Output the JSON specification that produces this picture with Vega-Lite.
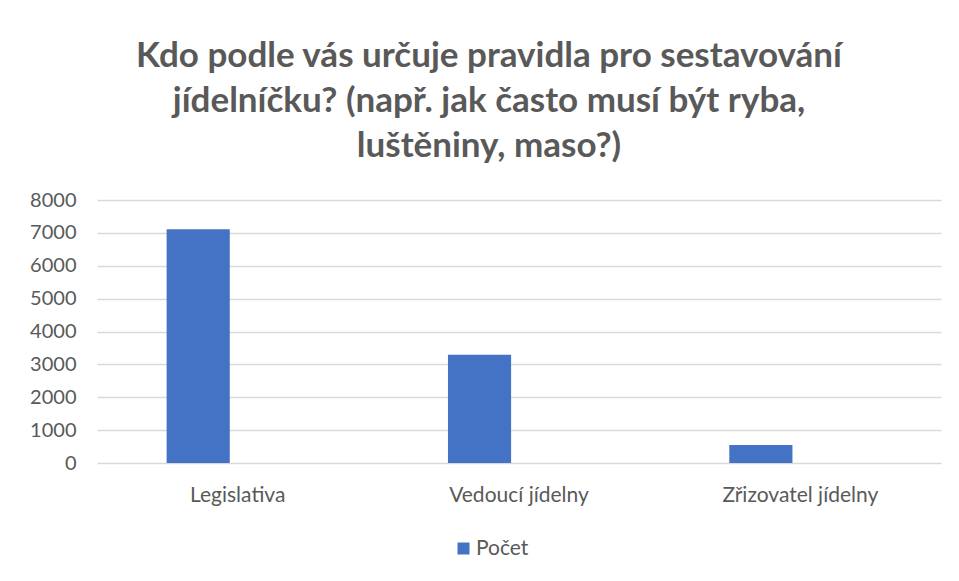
{
  "$schema": "https://vega.github.io/schema/vega-lite/v6.json",
  "autosize": "none",
  "width": 844,
  "height": 263,
  "padding": {"left": 97, "top": 200, "right": 18, "bottom": 118},
  "background": "white",
  "title": {
    "text": ["Kdo podle vás určuje pravidla pro sestavování", "jídelníčku? (např. jak často musí být ryba,", "luštěniny, maso?)"],
    "font": "Lato",
    "fontSize": 35,
    "fontWeight": "bold",
    "color": "#595959",
    "anchor": "middle",
    "dx": -30,
    "lineHeight": 45,
    "offset": 26
  },
  "data": {
    "values": [
      {"kategorie": "Legislativa", "serie": "Počet", "pocet": 7110},
      {"kategorie": "Vedoucí jídelny", "serie": "Počet", "pocet": 3290},
      {"kategorie": "Zřizovatel jídelny", "serie": "Počet", "pocet": 550}
    ]
  },
  "mark": {"type": "bar"},
  "encoding": {
    "x": {
      "field": "kategorie",
      "type": "nominal",
      "sort": null,
      "scale": {"paddingInner": 0.495, "paddingOuter": 0.2475},
      "axis": {"title": null, "labelAngle": 0, "domain": false, "ticks": false, "labelPadding": 21, "labelFontSize": 21, "labelFont": "Lato", "labelColor": "#595959"}
    },
    "xOffset": {
      "field": "serie",
      "type": "nominal",
      "scale": {"domain": ["Počet", "_"], "paddingInner": 0.2, "paddingOuter": 0}
    },
    "y": {
      "field": "pocet",
      "type": "quantitative",
      "scale": {"domain": [0, 8000], "nice": false},
      "axis": {"title": null, "values": [0, 1000, 2000, 3000, 4000, 5000, 6000, 7000, 8000], "format": "d", "domain": false, "ticks": false, "labelPadding": 21, "labelFontSize": 20, "labelFont": "Lato", "labelColor": "#595959", "grid": true, "gridColor": "#D9D9D9", "gridWidth": 1.5}
    },
    "color": {
      "field": "serie",
      "type": "nominal",
      "scale": {"domain": ["Počet"], "range": ["#4472C4"]},
      "legend": {"title": null, "orient": "none", "legendX": 356, "legendY": 338, "symbolType": "square", "symbolSize": 144, "symbolStrokeWidth": 0, "labelFontSize": 21, "labelFont": "Lato", "labelColor": "#595959", "labelOffset": 2}
    }
  },
  "config": {"view": {"stroke": null}}
}
